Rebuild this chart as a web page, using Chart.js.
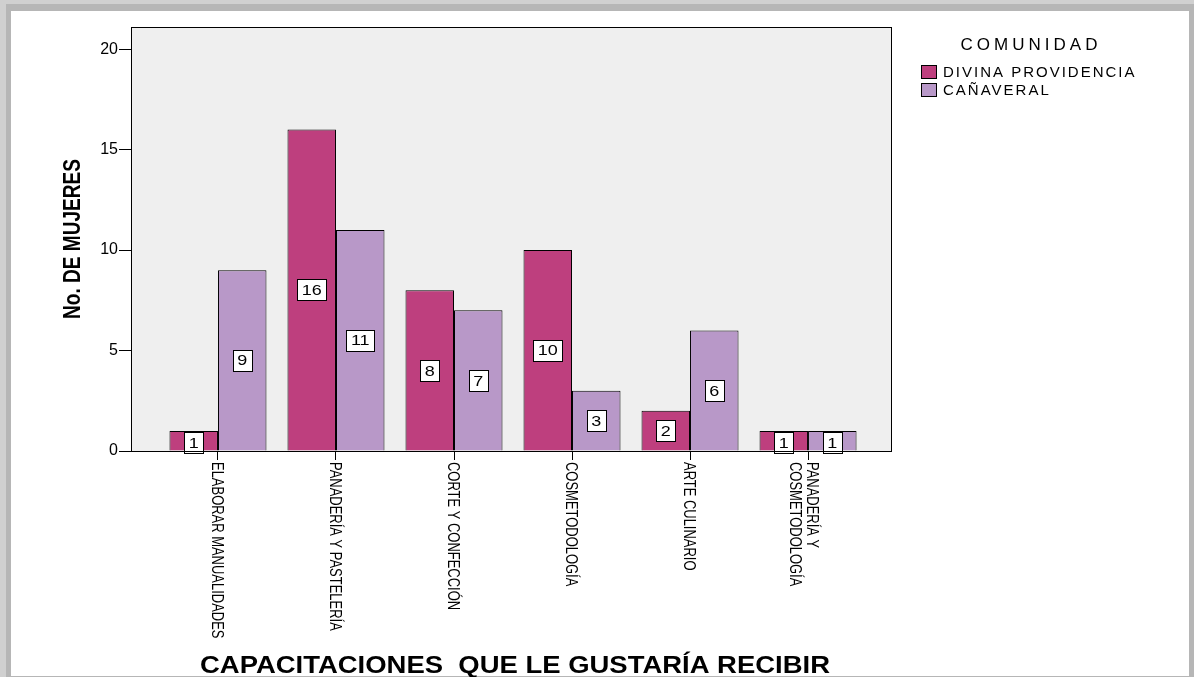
<!DOCTYPE html>
<html><head><meta charset="utf-8">
<script src="https://cdn.jsdelivr.net/npm/chart.js@4.4.1/dist/chart.umd.min.js"></script>
<style>html,body{margin:0;padding:0;background:#fff;overflow:hidden}canvas{display:block}</style>
</head><body><canvas id="c" width="1194" height="677"></canvas>
<script>
const categories = [["ELABORAR MANUALIDADES"],["PANADERÍA Y PASTELERÍA"],["CORTE Y CONFECCIÓN"],["COSMETODOLOGÍA"],["ARTE CULINARIO"],["PANADERÍA Y","COSMETODOLOGÍA"]];
const seriesNames = ["DIVINA PROVIDENCIA","CAÑAVERAL"];
const divinaProvidencia = [1,16,8,10,2,1];
const canaveral = [9,11,7,3,6,1];
const yTicks = [0,5,10,15,20];
const legendTitle = "COMUNIDAD";
const xTitle = "CAPACITACIONES  QUE LE GUSTARÍA RECIBIR";
const yTitle = "No. DE MUJERES";

const FONT = 'Arial, "Liberation Sans", sans-serif';
const colors = ['#BE3F7E','#B898C8'];

const framePlugin = {
  id:'frame',
  beforeDraw(chart){
    const ctx = chart.ctx, a = chart.chartArea;
    ctx.save();
    ctx.fillStyle='#d0d0d0'; ctx.fillRect(0,0,1194,677);
    ctx.fillStyle='#b6b6b6'; ctx.fillRect(6,4,1188,673);
    ctx.fillStyle='#ffffff'; ctx.fillRect(11,11,1178,665);
    ctx.fillStyle='#efefef'; ctx.fillRect(a.left,a.top,a.right-a.left,a.bottom-a.top);
    ctx.restore();
  },
  afterDatasetsDraw(chart){
    const ctx = chart.ctx, a = chart.chartArea;
    ctx.save();
    ctx.font = '15px '+FONT;
    ctx.textAlign='center'; ctx.textBaseline='middle';
    const SX = 1.2;
    chart.data.datasets.forEach((ds,di)=>{
      const meta = chart.getDatasetMeta(di);
      meta.data.forEach((bar,i)=>{
        const v = ds.data[i].y;
        const t = String(v);
        const cx = bar.x, cy = (bar.y+bar.base)/2 + (v<=1?2:0);
        const w = Math.round(ctx.measureText(t).width*SX + 9), h = 21;
        const bx = Math.round(cx-w/2)+0.5, by = Math.round(cy-h/2)+0.5;
        ctx.fillStyle='#fff'; ctx.fillRect(bx, by, w, h);
        ctx.strokeStyle='#000'; ctx.lineWidth=1;
        ctx.strokeRect(bx, by, w, h);
        ctx.fillStyle='#000';
        ctx.save(); ctx.translate(cx, cy+1); ctx.scale(SX,1); ctx.fillText(t, 0, 0); ctx.restore();
      });
    });
    ctx.strokeStyle='#000'; ctx.lineWidth=1;
    ctx.strokeRect(Math.round(a.left)+0.5, Math.round(a.top)+0.5, Math.round(a.right-a.left), Math.round(a.bottom-a.top));
    ctx.restore();
  },
  afterDraw(chart){
    const ctx = chart.ctx, a = chart.chartArea, xs = chart.scales.x;
    ctx.save();
    ctx.fillStyle='#000';
    // x tick labels (rotated, reading downward)
    ctx.font = '16px '+FONT;
    ctx.textAlign='left'; ctx.textBaseline='middle';
    categories.forEach((lines,i)=>{
      const px = xs.getPixelForValue(i);
      const n = lines.length;
      lines.forEach((ln,j)=>{
        ctx.save();
        ctx.translate(px - 2 + (n-1)*5 - j*17, a.bottom + 11);
        ctx.rotate(Math.PI/2);
        ctx.scale(0.81,1);
        ctx.fillText(ln,0,0);
        ctx.restore();
      });
    });
    // x title
    ctx.font = 'bold 24px '+FONT;
    ctx.textAlign='center'; ctx.textBaseline='middle';
    let w = ctx.measureText(xTitle).width;
    ctx.save();
    ctx.translate((a.left+a.right)/2+4, 666);
    ctx.scale(630/w,1);
    ctx.fillText(xTitle,0,0);
    ctx.restore();
    // y title
    ctx.font = 'bold 23px '+FONT;
    w = ctx.measureText(yTitle).width;
    ctx.save();
    ctx.translate(74,(a.top+a.bottom)/2);
    ctx.rotate(-Math.PI/2);
    ctx.scale(160/w,1);
    ctx.fillText(yTitle,0,0);
    ctx.restore();
    // legend
    ctx.font = '17px '+FONT;
    ctx.letterSpacing = '4px';
    ctx.textAlign='center';
    ctx.fillText(legendTitle, 1031, 45);
    ctx.textAlign='left';
    ctx.font = '15px '+FONT;
    ctx.letterSpacing = '2px';
    chart.data.datasets.forEach((ds,di)=>{
      const cy = 72 + di*18;
      ctx.fillStyle = ds.backgroundColor;
      ctx.fillRect(921.5, cy-6.5, 15, 13);
      ctx.strokeStyle='#000'; ctx.lineWidth=1;
      ctx.strokeRect(921.5, cy-6.5, 15, 13);
      ctx.fillStyle='#000';
      ctx.fillText(ds.label, 943, cy+1);
    });
    ctx.restore();
  }
};

new Chart(document.getElementById('c'),{
  type:'bar',
  data:{
    datasets:[
      {label:seriesNames[0], data:divinaProvidencia.map((v,i)=>({x:i,y:v})), backgroundColor:colors[0], borderColor:'#000', borderWidth:1},
      {label:seriesNames[1], data:canaveral.map((v,i)=>({x:i,y:v})), backgroundColor:colors[1], borderColor:'#000', borderWidth:1}
    ]
  },
  options:{
    responsive:false, animation:false, devicePixelRatio:1,
    categoryPercentage:0.822, barPercentage:1,
    layout:{padding:{left:0,top:27,right:303,bottom:0}},
    plugins:{legend:{display:false}, tooltip:{enabled:false}, title:{display:false}},
    scales:{
      x:{
        type:'linear', min:-0.737, max:5.703, offset:false,
        ticks:{display:false, stepSize:1, includeBounds:false},
        afterBuildTicks(s){ s.ticks = categories.map((c,i)=>({value:i})); },
        afterFit(s){ s.height = 226; },
        grid:{offset:false, drawOnChartArea:false, drawTicks:true, tickLength:9, color:'#000'},
        border:{display:true, color:'#000', width:1}
      },
      y:{
        min:0, max:21.1,
        ticks:{stepSize:5, includeBounds:false, color:'#000', padding:1, font:{family:FONT,size:16}},
        afterBuildTicks(s){ s.ticks = yTicks.map(v=>({value:v})); },
        afterFit(s){ s.width = 131; },
        grid:{drawOnChartArea:false, drawTicks:true, tickLength:12, color:'#000'},
        border:{display:true, color:'#000', width:1}
      }
    }
  },
  plugins:[framePlugin]
});
</script>
</body></html>
